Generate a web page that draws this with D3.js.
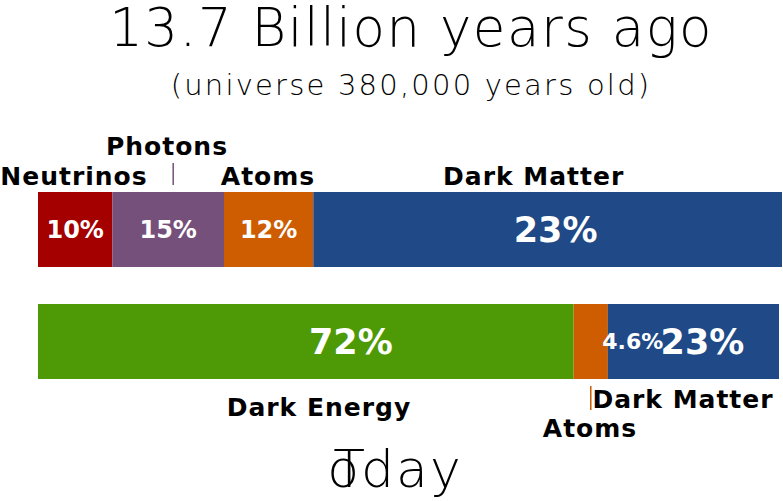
<!DOCTYPE html>
<html><head><meta charset="utf-8">
<script src="https://cdn.jsdelivr.net/npm/d3@7"></script>
<style>body{margin:0;background:#fff}</style></head>
<body><svg id="c" width="783" height="501"></svg>
<script>
const topCategories = ["Neutrinos","Photons","Atoms","Dark Matter"];
const topShares = [10,15,12,63];
const topLabels = ["10%","15%","12%","23%"];
const bottomCategories = ["Dark Energy","Atoms","Dark Matter"];
const bottomShares = [72,4.6,23];
const bottomLabels = ["72%","4.6%","23%"];
const colors = {"Neutrinos":"#a40000","Photons":"#75507b","Atoms":"#ce5c00","Dark Matter":"#204a87","Dark Energy":"#4e9a06"};

const svg = d3.select("#c");
const font = "DejaVu Sans";
svg.append("text").attr("x",411).attr("y",46).attr("text-anchor","middle")
  .attr("font-family",font).attr("font-weight",200).attr("font-size",53).attr("letter-spacing",1.5)
  .text("13.7 Billion years ago");
svg.append("text").attr("x",411).attr("y",95).attr("text-anchor","middle")
  .attr("font-family",font).attr("font-weight",200).attr("font-size",29).attr("letter-spacing",2.2)
  .text("(universe 380,000 years old)");

function bar(cats, shares, labels, x0, x1, y, h, sizes, shifts){
  const total = d3.sum(shares);
  const x = d3.scaleLinear().domain([0,total]).range([x0,x1]);
  let acc=0;
  const segs = cats.map((c,i)=>{const s={c,a:acc,b:acc+shares[i],l:labels[i],fs:sizes[i],sh:shifts[i]};acc+=shares[i];return s;});
  svg.selectAll(null).data(segs).enter().append("rect")
    .attr("x",d=>x(d.a)).attr("width",d=>x(d.b)-x(d.a)).attr("y",y).attr("height",h)
    .attr("fill",d=>colors[d.c]);
  svg.selectAll(null).data(segs).enter().append("text")
    .attr("x",d=>(x(d.a)+x(d.b))/2+d.sh).attr("y",y+h/2).attr("dy","0.36em")
    .attr("text-anchor","middle").attr("fill","#fff").attr("font-family",font)
    .attr("font-weight","bold").attr("font-size",d=>d.fs).text(d=>d.l);
  return {x,segs};
}
const t = bar(topCategories, topShares, topLabels, 38, 782, 192, 75, [24,24,24,35],[0,0,0,8]);
const b = bar(bottomCategories, bottomShares, bottomLabels, 38, 779, 304, 75, [35,22,35],[45,42,9]);
const lab = (txt,x,y)=>svg.append("text").attr("x",x).attr("y",y).attr("text-anchor","middle")
  .attr("font-family",font).attr("font-weight","bold").attr("font-size",25).attr("letter-spacing",1).text(txt);
const tmid = d=>(t.x(d.a)+t.x(d.b))/2, bmid=d=>(b.x(d.a)+b.x(d.b))/2;
lab("Neutrinos",74,185);
lab("Photons",167,155);
lab("Atoms",268,185);
lab("Dark Matter",tmid(t.segs[3])-14,185);
lab("Dark Energy",319,416);
lab("Atoms",590,437);
lab("Dark Matter",683,408);
svg.append("line").attr("x1",tmid(t.segs[1])+5).attr("x2",tmid(t.segs[1])+5).attr("y1",163).attr("y2",185)
  .attr("stroke",colors["Photons"]).attr("stroke-width",1.5);
svg.append("line").attr("x1",bmid(b.segs[1])).attr("x2",bmid(b.segs[1])).attr("y1",386).attr("y2",410)
  .attr("stroke",colors["Atoms"]).attr("stroke-width",1.5);
const td = svg.append("text").attr("x",395).attr("y",487)
  .attr("font-family",font).attr("font-weight",200).attr("font-size",52).attr("letter-spacing",2).attr("text-anchor","middle");
td.append("tspan").text("T");
td.append("tspan").attr("dx",-31).text("oday");
</script></body></html>
